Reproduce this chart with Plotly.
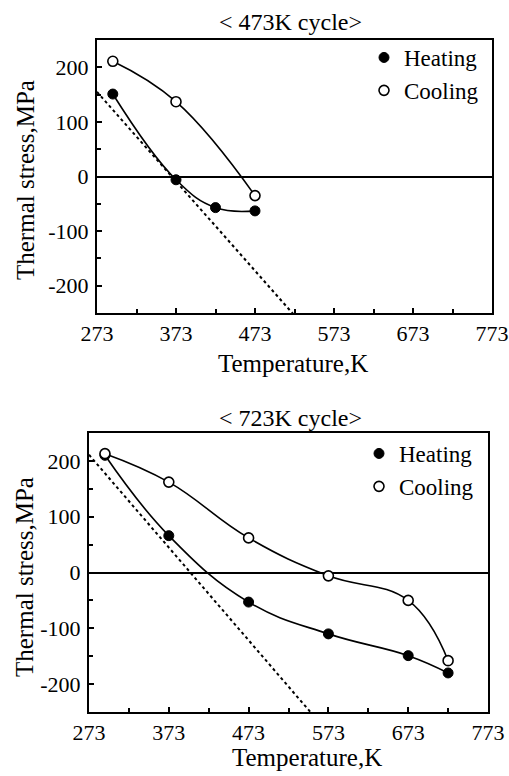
import plotly.graph_objects as go

# ---- data: 473K cycle ----
t473_heat_T = [293, 373, 423, 473]
t473_heat_S = [151, -6, -57, -63]
t473_cool_T = [293, 373, 473]
t473_cool_S = [211, 137, -35]
t473_elastic_T = [273, 530]
t473_elastic_S = [155, -266]

# ---- data: 723K cycle ----
t723_heat_T = [293, 373, 473, 573, 673, 723]
t723_heat_S = [210, 66, -53, -110, -149, -180]
t723_cool_T = [293, 373, 473, 573, 673, 723]
t723_cool_S = [213, 162, 62, -6, -50, -158]
t723_elastic_T = [273, 560]
t723_elastic_S = [211, -266]

x_ticks = [273, 373, 473, 573, 673, 773]
y_ticks = [200, 100, 0, -100, -200]
y_ticktext = ["200", "100", "0", "-100", "-200"]

FONT = "Liberation Serif"
W, H = 509, 776

fig = go.Figure()

def add_panel(xa, ya, heatT, heatS, coolT, coolS, elT, elS, legend):
    fig.add_trace(go.Scatter(
        x=elT, y=elS, mode="lines", xaxis=xa, yaxis=ya, showlegend=False,
        line=dict(color="black", width=2, dash="dot"), hoverinfo="skip"))
    for T, S, name, fill, lw in [(heatT, heatS, "Heating", "black", 1),
                                 (coolT, coolS, "Cooling", "white", 1.6)]:
        fig.add_trace(go.Scatter(
            x=T, y=S, mode="lines", xaxis=xa, yaxis=ya, showlegend=False,
            line=dict(color="black", width=1.6, shape="spline", smoothing=1.2),
            hoverinfo="skip"))
        fig.add_trace(go.Scatter(
            x=T, y=S, mode="markers", name=name, xaxis=xa, yaxis=ya, legend=legend,
            marker=dict(symbol="circle", size=10, color=fill,
                        line=dict(color="black", width=lw))))

add_panel("x", "y", t473_heat_T, t473_heat_S, t473_cool_T, t473_cool_S,
          t473_elastic_T, t473_elastic_S, "legend")
add_panel("x2", "y2", t723_heat_T, t723_heat_S, t723_cool_T, t723_cool_S,
          t723_elastic_T, t723_elastic_S, "legend2")

def px_x(p):
    return p / W

def px_y(p):
    return 1 - p / H

xaxis_common = dict(
    range=[273, 773], tickvals=x_ticks, ticks="inside", ticklen=5, tickwidth=1.5,
    tickcolor="black", showline=True, linecolor="black", linewidth=2, mirror=True,
    showgrid=False, zeroline=False, ticklabelstandoff=0, automargin=False,
    tickfont=dict(family=FONT, size=22, color="black"),
    minor=dict(dtick=50, tick0=273, ticks="inside", ticklen=4, tickcolor="black", tickwidth=1.5),
)
yaxis_common = dict(
    range=[-250, 250], tickvals=y_ticks, ticktext=y_ticktext, ticks="inside", ticklen=5,
    tickwidth=1.5, tickcolor="black", showline=True, linecolor="black", linewidth=2,
    mirror=True, showgrid=False, zeroline=True, zerolinecolor="black", zerolinewidth=1.6,
    tickfont=dict(family=FONT, size=22, color="black"), ticklabelstandoff=2, automargin=False,
    minor=dict(dtick=50, tick0=0, ticks="inside", ticklen=4, tickcolor="black", tickwidth=1.5),
)

legend_common = dict(xanchor="left", yanchor="top", bgcolor="rgba(0,0,0,0)",
                     font=dict(family=FONT, size=23, color="black"),
                     itemwidth=30, tracegroupgap=0)

fig.update_layout(
    width=W, height=H, autosize=False, margin=dict(l=0, r=0, t=0, b=0, pad=0),
    paper_bgcolor="white", plot_bgcolor="white",
    font=dict(family=FONT, color="black"),
    xaxis=dict(domain=[px_x(97), px_x(492)], anchor="y", **xaxis_common),
    yaxis=dict(domain=[px_y(313), px_y(40)], anchor="x", **yaxis_common),
    xaxis2=dict(domain=[px_x(89), px_x(488)], anchor="y2", **xaxis_common),
    yaxis2=dict(domain=[px_y(712), px_y(433)], anchor="x2", **yaxis_common),
    legend=dict(x=px_x(364), y=px_y(36), **legend_common),
    legend2=dict(x=px_x(359), y=px_y(432), **legend_common),
    showlegend=True,
)

def ann(text, x, y, size, angle=0):
    fig.add_annotation(text=text, x=px_x(x), y=px_y(y), xref="paper", yref="paper",
                       showarrow=False, textangle=angle, xanchor="center", yanchor="middle",
                       font=dict(family=FONT, size=size, color="black"))

ann("&lt; 473K cycle&gt;", 290, 22, 24)
ann("&lt; 723K cycle&gt;", 290, 418, 24)
ann("Temperature,K", 293, 363, 25)
ann("Temperature,K", 307, 757, 25)
ann("Thermal stress,MPa", 25, 180, 25, -90)
ann("Thermal stress,MPa", 24, 577, 25, -90)

fig.write_html("out.html", config={"responsive": False, "displayModeBar": False},
               post_script="document.body.style.margin='0';document.body.style.overflow='hidden';")
